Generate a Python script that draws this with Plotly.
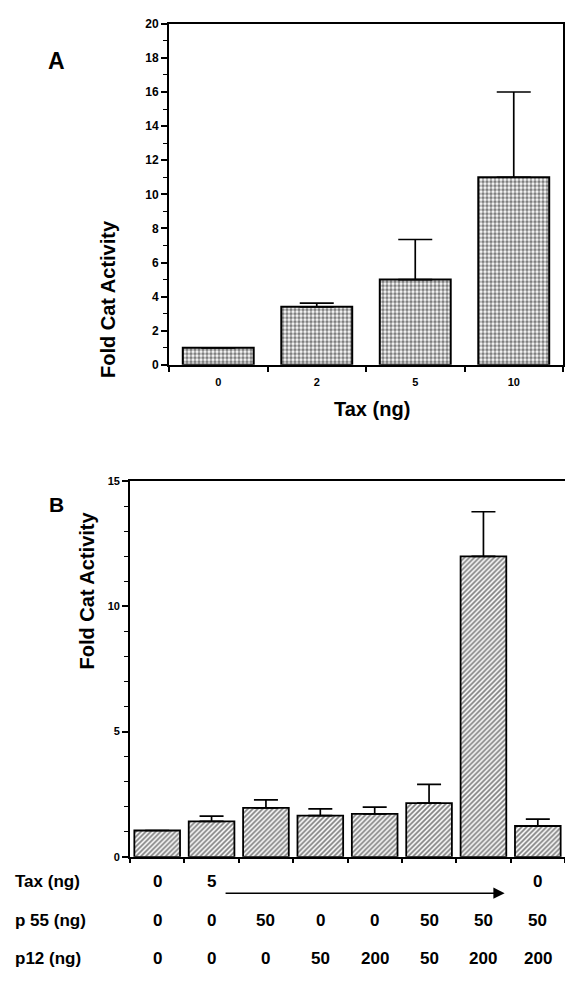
import plotly.graph_objects as go

W, H = 565, 987

# Panel A data
a_tax_labels = ["0", "2", "5", "10"]
a_values = [1.0, 3.4, 5.0, 11.0]
a_err = [0.0, 0.22, 2.35, 5.0]

# Panel B data
b_tax = [0, 5, 5, 5, 5, 5, 5, 0]
b_p55 = [0, 0, 50, 0, 0, 50, 50, 50]
b_p12 = [0, 0, 0, 50, 200, 50, 200, 200]
b_values = [1.05, 1.41, 1.95, 1.64, 1.71, 2.14, 12.0, 1.23]
b_err = [0.0, 0.21, 0.32, 0.27, 0.27, 0.75, 1.78, 0.27]

FONT = "Arial, Liberation Sans, sans-serif"

def px_x(p):
    return p / W

def px_y(p):
    return 1 - p / H

b_cats = [f"{t}/{a}/{b}" for t, a, b in zip(b_tax, b_p55, b_p12)]

fig = go.Figure()
fig.add_trace(go.Bar(
    x=a_tax_labels, y=a_values, xaxis="x", yaxis="y", width=0.72,
    marker=dict(color="white", line=dict(color="black", width=2),
                pattern=dict(shape=".", fgcolor="black", bgcolor="white", size=4, solidity=0.6)),
    error_y=dict(type="data", array=a_err, arrayminus=[0]*4, symmetric=False,
                 color="black", thickness=1.7, width=17),
    showlegend=False))
fig.add_trace(go.Bar(
    x=b_cats, y=b_values, xaxis="x2", yaxis="y2", width=0.84,
    marker=dict(color="white", line=dict(color="black", width=1.8),
                pattern=dict(shape="/", fgcolor="black", bgcolor="white", size=3.5, solidity=0.5)),
    error_y=dict(type="data", array=b_err, arrayminus=[0]*8, symmetric=False,
                 color="black", thickness=1.7, width=12),
    showlegend=False))

tickfontA = dict(family=FONT, size=12, color="black", weight="bold")
tickfontB = dict(family=FONT, size=11, color="black", weight="bold")

fig.update_layout(
    width=W, height=H, margin=dict(l=0, r=0, t=0, b=0),
    paper_bgcolor="white", plot_bgcolor="white",
    xaxis=dict(domain=[px_x(169), px_x(563)], anchor="y", type="category",
               range=[-0.5, 3.5], tickson="boundaries", ticks="outside", ticklen=5,
               tickcolor="black", tickwidth=1.5, showline=True, linecolor="black",
               linewidth=1.8, mirror=True, showgrid=False,
               tickfont=dict(family=FONT, size=11, color="black", weight="bold"),
               ticklabelstandoff=6),
    yaxis=dict(domain=[px_y(363), px_y(17)], anchor="x", range=[0, 20],
               tickvals=[0, 2, 4, 6, 8, 10, 12, 14, 16, 18, 20], ticks="outside",
               ticklen=6, tickcolor="black", tickwidth=1.5, showline=True,
               linecolor="black", linewidth=1.8, mirror=True, showgrid=False,
               zeroline=False, tickfont=tickfontA,
               minor=dict(dtick=1, ticks="outside", ticklen=4, tickcolor="black", tickwidth=1.2)),
    xaxis2=dict(domain=[px_x(130), 1.0], anchor="y2", type="category",
                range=[-0.5, 7.5], tickson="boundaries", ticks="outside", ticklen=4,
                tickcolor="black", tickwidth=1.5, showline=True, linecolor="black",
                linewidth=1.8, mirror=True, showgrid=False, showticklabels=False),
    yaxis2=dict(domain=[px_y(862), px_y(481)], anchor="x2", range=[0, 15],
                tickvals=[0, 5, 10, 15], ticks="outside", ticklen=6, tickcolor="black",
                tickwidth=1.5, showline=True, linecolor="black", linewidth=1.8,
                showgrid=False, zeroline=False, tickfont=tickfontB,
                minor=dict(dtick=1, ticks="outside", ticklen=4, tickcolor="black", tickwidth=1.2)),
)

ann = []
ttl = dict(family=FONT, size=20, color="black", weight="bold")
row = dict(family=FONT, size=17, color="black", weight="bold")

ann.append(dict(text="A", x=px_x(46), y=px_y(40), xref="paper", yref="paper",
                showarrow=False, font=dict(family=FONT, size=23, color="black", weight="bold")))
ann.append(dict(text="B", x=px_x(47), y=px_y(505), xref="paper", yref="paper",
                showarrow=False, font=dict(family=FONT, size=21, color="black", weight="bold")))
ann.append(dict(text="Fold Cat Activity", x=px_x(95), y=px_y(214), xref="paper", yref="paper",
                showarrow=False, textangle=-90, font=ttl))
ann.append(dict(text="Fold Cat Activity", x=px_x(74), y=px_y(674), xref="paper", yref="paper",
                showarrow=False, textangle=-90, font=ttl))
ann.append(dict(text="Tax (ng)", x=px_x(372), y=px_y(408), xref="paper", yref="paper",
                showarrow=False, font=dict(family=FONT, size=20, color="black", weight="bold")))

rows = [("Tax (ng)", b_tax, 899), ("p 55 (ng)", b_p55, 938), ("p12 (ng)", b_p12, 977)]
for name, vals, ypx in rows:
    ann.append(dict(text=name, x=px_x(13), y=px_y(ypx), xref="paper", yref="paper",
                    xanchor="left", showarrow=False, font=row))
    if name.startswith("Tax"):
        i = 0
        n = len(vals)
        while i < n:
            j = i
            while j + 1 < n and vals[j + 1] == vals[i]:
                j += 1
            ann.append(dict(text=str(vals[i]), x=i, y=px_y(ypx), xref="x2", yref="paper",
                            showarrow=False, font=row))
            if j > i:
                ann.append(dict(text="", x=j + 0.39, y=px_y(ypx), ax=i + 0.23, ay=0,
                                xref="x2", yref="paper", axref="x2", ayref="pixel",
                                showarrow=True, arrowhead=2, arrowsize=1.5, arrowwidth=1.5,
                                arrowcolor="black"))
            i = j + 1
    else:
        for i, v in enumerate(vals):
            ann.append(dict(text=str(v), x=i, y=px_y(ypx), xref="x2", yref="paper",
                            showarrow=False, font=row))

fig.update_layout(annotations=ann)
fig.write_html("out.html", config={"displayModeBar": False},
               post_script="document.body.style.margin='0';document.body.style.overflow='hidden';")
